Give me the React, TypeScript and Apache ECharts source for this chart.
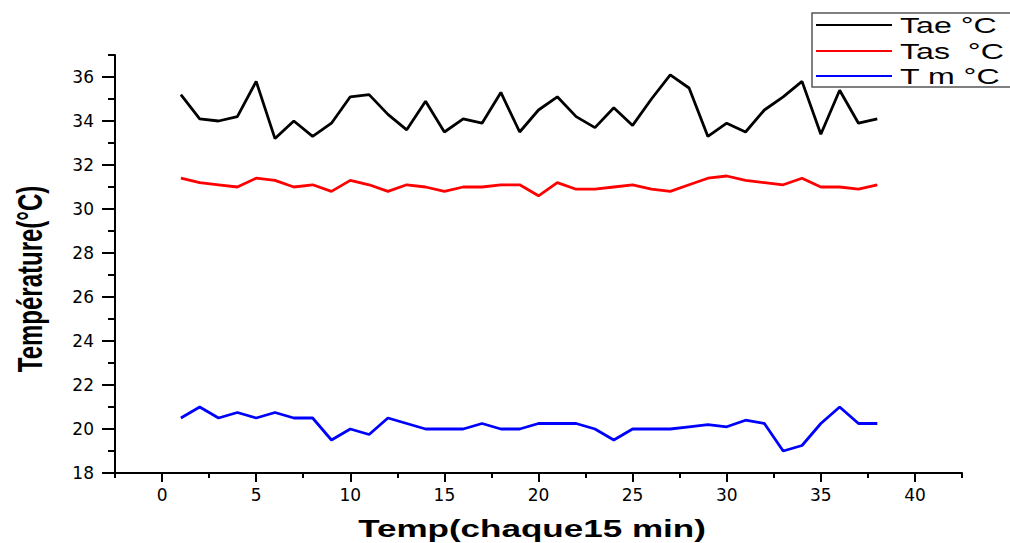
import React, { useEffect, useRef } from "react";
import * as echarts from "echarts";

const timeSteps = [1, 2, 3, 4, 5, 6, 7, 8, 9, 10, 11, 12, 13, 14, 15, 16, 17, 18, 19, 20, 21, 22, 23, 24, 25, 26, 27, 28, 29, 30, 31, 32, 33, 34, 35, 36, 37, 38];
const tae = [35.2, 34.1, 34.0, 34.2, 35.8, 33.2, 34.0, 33.3, 33.9, 35.1, 35.2, 34.3, 33.6, 34.9, 33.5, 34.1, 33.9, 35.3, 33.5, 34.5, 35.1, 34.2, 33.7, 34.6, 33.8, 35.0, 36.1, 35.5, 33.3, 33.9, 33.5, 34.5, 35.1, 35.8, 33.4, 35.4, 33.9, 34.1];
const tas = [31.4, 31.2, 31.1, 31.0, 31.4, 31.3, 31.0, 31.1, 30.8, 31.3, 31.1, 30.8, 31.1, 31.0, 30.8, 31.0, 31.0, 31.1, 31.1, 30.6, 31.2, 30.9, 30.9, 31.0, 31.1, 30.9, 30.8, 31.1, 31.4, 31.5, 31.3, 31.2, 31.1, 31.4, 31.0, 31.0, 30.9, 31.1];
const tm = [20.5, 21.0, 20.5, 20.75, 20.5, 20.75, 20.5, 20.5, 19.5, 20.0, 19.75, 20.5, 20.25, 20.0, 20.0, 20.0, 20.25, 20.0, 20.0, 20.25, 20.25, 20.25, 20.0, 19.5, 20.0, 20.0, 20.0, 20.1, 20.2, 20.1, 20.4, 20.25, 19.0, 19.25, 20.25, 21.0, 20.25, 20.25];

const seriesNames = ["Tae °C", "Tas  °C", "T m °C"];
const seriesColors = ["#000000", "#ff0000", "#0000ff"];

const xMajorTicks = [0, 5, 10, 15, 20, 25, 30, 35, 40];
const xMinorTicks = [-2.5, 2.5, 7.5, 12.5, 17.5, 22.5, 27.5, 32.5, 37.5, 42.5];
const yMajorTicks = [18, 20, 22, 24, 26, 28, 30, 32, 34, 36];
const yMinorTicks = [19, 21, 23, 25, 27, 29, 31, 33, 35, 37];

const xTitle = "Temp(chaque15 min)";
const yTitle = "Température(°C)";

const STRETCH = 1.46;
const FONT = "'Liberation Sans', Arial, sans-serif";

export default function App() {
  const ref = useRef<HTMLDivElement>(null);

  useEffect(() => {
    document.body.style.margin = "0";
    if (!ref.current) return;
    const chart = echarts.init(ref.current, undefined, { renderer: "svg" });
    const allData = [tae, tas, tm];

    const legendRows = [25, 51, 76];
    const legendGraphics: any[] = [
      {
        type: "rect",
        shape: { x: 812, y: 13, width: 230, height: 74 },
        style: { fill: "#ffffff", stroke: "#555555", lineWidth: 1.5 },
        z: 100,
      },
    ];
    seriesNames.forEach((name, i) => {
      legendGraphics.push({
        type: "line",
        shape: { x1: 816, y1: legendRows[i], x2: 892, y2: legendRows[i] },
        style: { stroke: seriesColors[i], lineWidth: 2 },
        z: 101,
      });
      legendGraphics.push({
        type: "text",
        x: 900,
        y: legendRows[i],
        scaleX: STRETCH,
        style: {
          text: name,
          font: `22px ${FONT}`,
          fill: "#000",
          textAlign: "left",
          textVerticalAlign: "middle",
          align: "left",
          verticalAlign: "middle",
        },
        z: 101,
      });
    });

    const option: any = {
      animation: false,
      backgroundColor: "#ffffff",
      grid: { left: 115, right: 48, top: 55, bottom: 70, containLabel: false },
      xAxis: [
        {
          type: "value",
          min: -2.5,
          max: 42.5,
          position: "bottom",
          axisLine: { show: true, onZero: false, lineStyle: { color: "#000", width: 2 } },
          axisTick: { show: true, length: 9, lineStyle: { color: "#000", width: 2 }, customValues: xMajorTicks },
          axisLabel: { show: true, customValues: xMajorTicks, margin: 13, color: "#000", fontSize: 17, fontFamily: "DejaVu Sans" },
          splitLine: { show: false },
        },
        {
          type: "value",
          min: -2.5,
          max: 42.5,
          position: "bottom",
          offset: 0,
          axisLine: { show: false, onZero: false },
          axisTick: { show: true, length: 5, lineStyle: { color: "#000", width: 2 }, customValues: xMinorTicks },
          axisLabel: { show: false },
          splitLine: { show: false },
        },
      ],
      yAxis: [
        {
          type: "value",
          min: 18,
          max: 37,
          position: "left",
          axisLine: { show: true, onZero: false, lineStyle: { color: "#000", width: 2 } },
          axisTick: { show: true, length: 13, lineStyle: { color: "#000", width: 2 }, customValues: yMajorTicks },
          axisLabel: { show: true, customValues: yMajorTicks, margin: 21, color: "#000", fontSize: 17, fontFamily: "DejaVu Sans" },
          splitLine: { show: false },
        },
        {
          type: "value",
          min: 18,
          max: 37,
          position: "left",
          offset: 0,
          axisLine: { show: false, onZero: false },
          axisTick: { show: true, length: 7, lineStyle: { color: "#000", width: 2 }, customValues: yMinorTicks },
          axisLabel: { show: false },
          splitLine: { show: false },
        },
      ],
      series: seriesNames.map((name, i) => ({
        name,
        type: "line",
        xAxisIndex: 0,
        yAxisIndex: 0,
        showSymbol: false,
        symbol: "none",
        data: timeSteps.map((t, k) => [t, allData[i][k]]),
        lineStyle: { color: seriesColors[i], width: 2.8 },
        itemStyle: { color: seriesColors[i] },
        z: 3,
      })),
      graphic: [
        {
          type: "text",
          x: 532,
          y: 529,
          scaleX: STRETCH,
          style: {
            text: xTitle,
            font: `bold 24px ${FONT}`,
            fill: "#000",
            textAlign: "center",
            textVerticalAlign: "middle",
            align: "center",
            verticalAlign: "middle",
          },
        },
        {
          type: "text",
          x: 30,
          y: 279,
          rotation: Math.PI / 2,
          scaleY: STRETCH,
          style: {
            text: yTitle,
            font: `bold 24px ${FONT}`,
            fill: "#000",
            textAlign: "center",
            textVerticalAlign: "middle",
            align: "center",
            verticalAlign: "middle",
          },
        },
        ...legendGraphics,
      ],
    };
    chart.setOption(option);
    return () => chart.dispose();
  }, []);

  return <div ref={ref} style={{ width: 1010, height: 543 }} />;
}
